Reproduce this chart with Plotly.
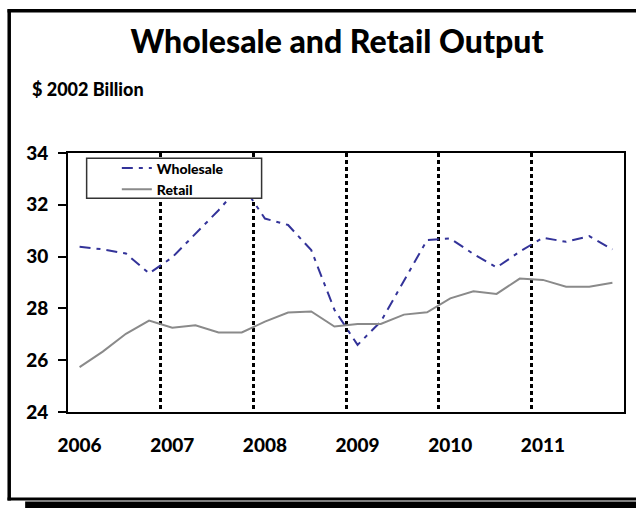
import plotly.graph_objects as go

# ---- data ----
quarters = [f"{y}Q{q}" for y in range(2006, 2012) for q in range(1, 5)]
years = ["2006", "2007", "2008", "2009", "2010", "2011"]
wholesale = [30.38, 30.28, 30.12, 29.35, 29.97, 30.90, 31.79, 32.80,
             31.47, 31.22, 30.25, 27.95, 26.59, 27.49, 29.07, 30.64,
             30.70, 30.10, 29.58, 30.19, 30.73, 30.57, 30.79, 30.28]
retail = [25.73, 26.33, 27.02, 27.53, 27.25, 27.35, 27.07, 27.07,
          27.49, 27.84, 27.88, 27.30, 27.40, 27.40, 27.76, 27.85,
          28.39, 28.66, 28.56, 29.15, 29.10, 28.84, 28.84, 28.99]

# page body margin is removed below, so figure pixels == page pixels
W, H = 636, 508
L, R, T, B = 68, 626, 153, 412.3   # plot area (px)


def px(xp):
    """page x pixel -> paper fraction"""
    return (xp - L) / (R - L)


def py(yp):
    """page y pixel -> paper fraction"""
    return (B - yp) / (B - T)


n = len(quarters)
xpos = [i + 0.5 for i in range(n)]
FONT = "Lato"
WT = 900

fig = go.Figure()
fig.add_trace(go.Scatter(
    x=xpos, y=wholesale, mode="lines", name="Wholesale",
    line=dict(color="#333399", width=2, dash="11px,6px,4px,6px"),
    text=quarters, hovertemplate="%{text}: %{y}<extra>Wholesale</extra>"))
fig.add_trace(go.Scatter(
    x=xpos, y=retail, mode="lines", name="Retail",
    line=dict(color="#8a8a8a", width=2),
    text=quarters, hovertemplate="%{text}: %{y}<extra>Retail</extra>"))

frame = dict(color="black", width=3.5)
shapes = [
    # legend box (drawn above the lines)
    dict(type="rect", xref="paper", yref="paper", layer="above",
         x0=px(86.7), x1=px(262.3), y0=py(198.3), y1=py(158.3),
         fillcolor="white", line=dict(color="#333333", width=1.5)),
    # outer frame: left, top, bottom (right side lies beyond the picture)
    dict(type="line", xref="paper", yref="paper", layer="above",
         x0=px(9), x1=px(9), y0=py(501), y1=py(9), line=frame),
    dict(type="line", xref="paper", yref="paper", layer="above",
         x0=px(7.3), x1=px(700), y0=py(10.5), y1=py(10.5), line=frame),
    dict(type="line", xref="paper", yref="paper", layer="above",
         x0=px(7.3), x1=px(700), y0=py(499.3), y1=py(499.3),
         line=dict(color="black", width=3)),
    # shadow at the bottom
    dict(type="rect", xref="paper", yref="paper", layer="above",
         x0=px(25), x1=px(700), y0=py(515), y1=py(501.8),
         fillcolor="black", line=dict(width=0)),
]

fig.update_layout(
    width=W, height=H, autosize=False,
    margin=dict(l=L, r=W - R, t=T, b=H - B, pad=0),
    paper_bgcolor="white", plot_bgcolor="white",
    font=dict(family=FONT, color="black"),
    showlegend=True,
    legend=dict(x=px(117), y=py(152.5), xanchor="left", yanchor="top",
                bgcolor="rgba(0,0,0,0)", borderwidth=0,
                font=dict(family=FONT, size=14, weight=WT),
                tracegroupgap=0, itemwidth=30),
    title=dict(text="Wholesale and Retail Output",
               x=337 / W, xanchor="center",
               xref="container", yref="container",
               y=1 - 42 / H, yanchor="middle",
               font=dict(family=FONT, size=32, weight=WT)),
    shapes=shapes,
    annotations=[dict(text="$ 2002 Billion", xref="paper", yref="paper",
                      x=px(30), y=py(89), xanchor="left", yanchor="middle",
                      showarrow=False,
                      font=dict(family=FONT, size=18, weight=WT))],
)

fig.update_xaxes(
    range=[0, n], showgrid=False, zeroline=False,
    tickmode="array", tickvals=[i * 4 + 0.5 for i in range(len(years))],
    ticktext=years, ticks="", ticklabelstandoff=15,
    tickfont=dict(family=FONT, size=19, weight=WT),
    showline=True, linecolor="black", linewidth=2, mirror=True,
    minor=dict(tickmode="array", tickvals=[4 * k for k in range(1, 7)],
               showgrid=True, gridcolor="black", gridwidth=2.5,
               griddash="4px,3px", ticks=""),
)
fig.update_yaxes(
    range=[24, 34], dtick=2, tick0=24, showgrid=False, zeroline=False,
    ticks="outside", ticklen=8, tickwidth=1.5, tickcolor="black",
    ticklabelstandoff=6,
    tickfont=dict(family=FONT, size=19, weight=WT),
    showline=True, linecolor="black", linewidth=2, mirror=True,
)

fig.write_html(
    "out.html",
    config={"displayModeBar": False},
    post_script="document.body.style.margin='0';"
                "document.body.style.overflow='hidden';",
)
